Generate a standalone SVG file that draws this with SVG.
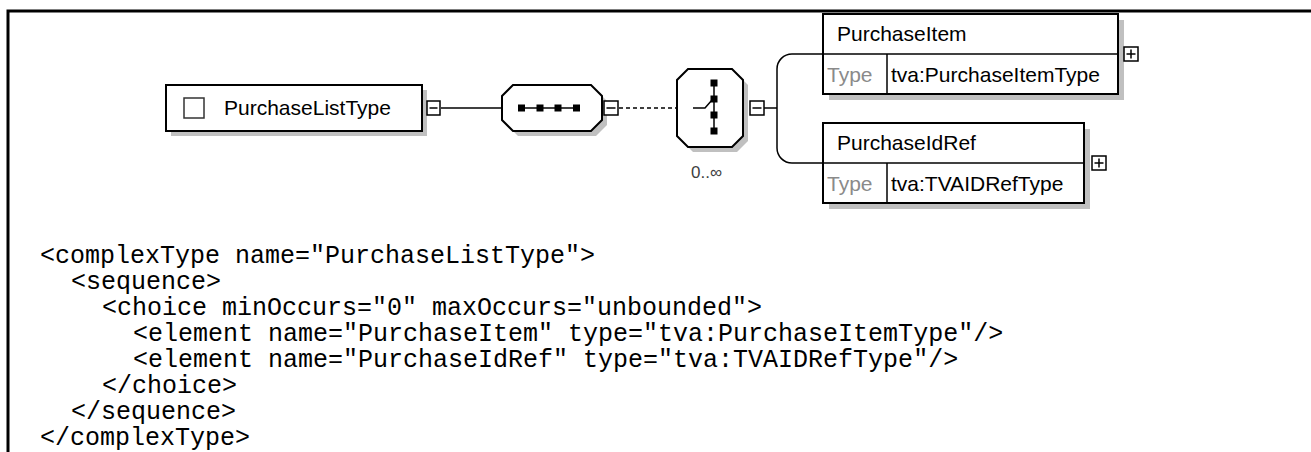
<svg xmlns="http://www.w3.org/2000/svg" width="1311" height="452" viewBox="0 0 1311 452">
<style>
.frame{fill:none;stroke:#000;stroke-width:3}
.box{fill:#fff;stroke:#000;stroke-width:2}
.shadow{fill:#c0c0c0;stroke:none}
.btn{fill:#fff;stroke:#000;stroke-width:1.5}
.sym{stroke:#000;stroke-width:1.5;fill:none}
.conn{fill:none;stroke:#000;stroke-width:1.5}
.dot{fill:#000}
.lbl{font-family:"Liberation Sans",Arial,sans-serif;font-size:21px;fill:#000}
.typ{font-family:"Liberation Sans",Arial,sans-serif;font-size:21px;fill:#8a8a8a}
.occ{font-family:"Liberation Sans",Arial,sans-serif;font-size:17px;fill:#404040}
.code{font-family:"Liberation Mono","Courier New",monospace;font-size:25px;fill:#000}
</style>
<rect width="1311" height="452" fill="#fff"/>
<path class="frame" d="M8,452 V11 H1311"/>

<g id="connectors">
  <line class="conn" x1="441" y1="108" x2="502" y2="108"/>
  <line class="conn" x1="619" y1="108" x2="677" y2="108" stroke-dasharray="4,3"/>
  <path class="conn" d="M764,108 H777"/>
  <path class="conn" d="M823,54 H792 A15,15 0 0 0 777,69 V148 A15,15 0 0 0 792,163 H823"/>
</g>

<g id="PurchaseListType">
  <rect class="shadow" x="171" y="90" width="256" height="46"/>
  <rect class="box" x="166" y="85" width="256" height="46"/>
  <rect x="184" y="98" width="20" height="20" fill="#fff" stroke="#333" stroke-width="1.5"/>
  <text class="lbl" x="224" y="115">PurchaseListType</text>
  <rect class="btn" x="427" y="101" width="13" height="14"/>
  <line class="sym" x1="429.5" y1="108" x2="437.5" y2="108"/>
</g>

<g id="sequence">
  <polygon class="shadow" points="518,90 596,90 607,101 607,125 596,136 518,136 507,125 507,101"/>
  <polygon class="box" points="513,85 591,85 602,96 602,120 591,131 513,131 502,120 502,96"/>
  <line class="sym" x1="522" y1="108" x2="577" y2="108"/>
  <rect class="dot" x="518" y="104.5" width="7" height="7"/>
  <rect class="dot" x="536.5" y="104.5" width="7" height="7"/>
  <rect class="dot" x="554.5" y="104.5" width="7" height="7"/>
  <rect class="dot" x="573" y="104.5" width="7" height="7"/>
</g>
<g id="sequence-btn">
  <rect class="btn" x="604" y="101" width="14" height="14"/>
  <line class="sym" x1="606.5" y1="108" x2="615.5" y2="108"/>
</g>

<g id="choice">
  <polygon class="shadow" points="693,74 737,74 748,85 748,141 737,152 693,152 682,141 682,85"/>
  <polygon class="box" points="688,69 732,69 743,80 743,136 732,147 688,147 677,136 677,80"/>
  <line class="sym" x1="714" y1="83" x2="714" y2="131"/>
  <rect class="dot" x="710.5" y="79.5" width="7" height="7"/>
  <rect class="dot" x="710.5" y="95.5" width="7" height="7"/>
  <rect class="dot" x="710.5" y="111.5" width="7" height="7"/>
  <rect class="dot" x="710.5" y="127.5" width="7" height="7"/>
  <path class="sym" d="M693,108 H705 L712,100"/>
  <text class="occ" x="691" y="178">0..∞</text>
  <rect class="btn" x="750" y="101" width="14" height="14"/>
  <line class="sym" x1="752.5" y1="108" x2="761.5" y2="108"/>
</g>

<g id="PurchaseItem">
  <rect class="shadow" x="829" y="20" width="295" height="80"/>
  <rect class="box" x="823" y="14" width="295" height="80"/>
  <line class="sym" x1="823" y1="54" x2="1118" y2="54"/>
  <line class="sym" x1="887" y1="54" x2="887" y2="94"/>
  <text class="lbl" x="837" y="41">PurchaseItem</text>
  <text class="typ" x="827" y="82">Type</text>
  <text class="lbl" x="891" y="82">tva:PurchaseItemType</text>
  <rect class="btn" x="1124" y="47" width="14" height="14"/>
  <path class="sym" d="M1126.5,54 H1135.5 M1131,49.5 V58.5"/>
</g>

<g id="PurchaseIdRef">
  <rect class="shadow" x="829" y="129" width="261" height="80"/>
  <rect class="box" x="823" y="123" width="261" height="80"/>
  <line class="sym" x1="823" y1="163" x2="1084" y2="163"/>
  <line class="sym" x1="887" y1="163" x2="887" y2="203"/>
  <text class="lbl" x="837" y="150">PurchaseIdRef</text>
  <text class="typ" x="827" y="191">Type</text>
  <text class="lbl" x="891" y="191">tva:TVAIDRefType</text>
  <rect class="btn" x="1092" y="156" width="14" height="14"/>
  <path class="sym" d="M1094.5,163 H1103.5 M1099,158.5 V167.5"/>
</g>

<g id="code">
  <text class="code" x="40" y="263">&lt;complexType name="PurchaseListType"&gt;</text>
  <text class="code" x="71" y="289">&lt;sequence&gt;</text>
  <text class="code" x="102" y="315">&lt;choice minOccurs="0" maxOccurs="unbounded"&gt;</text>
  <text class="code" x="133" y="341">&lt;element name="PurchaseItem" type="tva:PurchaseItemType"/&gt;</text>
  <text class="code" x="133" y="367">&lt;element name="PurchaseIdRef" type="tva:TVAIDRefType"/&gt;</text>
  <text class="code" x="102" y="393">&lt;/choice&gt;</text>
  <text class="code" x="71" y="419">&lt;/sequence&gt;</text>
  <text class="code" x="40" y="445">&lt;/complexType&gt;</text>
</g>
</svg>
